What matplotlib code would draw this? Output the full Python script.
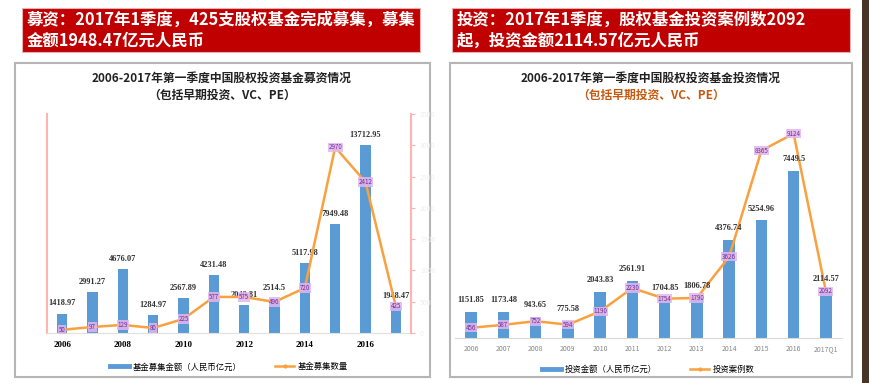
import matplotlib
matplotlib.use("Agg")
import matplotlib.pyplot as plt
from matplotlib.patches import Rectangle
from matplotlib.lines import Line2D

plt.rcParams['font.family'] = ['Noto Sans CJK SC', 'DejaVu Sans']

# data - fundraising (left chart)
years = ['2006', '2007', '2008', '2009', '2010', '2011', '2012', '2013', '2014', '2015', '2016', '2017']
raise_amount = [1418.97, 2991.27, 4676.07, 1284.97, 2567.89, 4231.48, 2049.81, 2514.5, 5117.98, 7949.48, 13712.95, 1948.47]
raise_count = [50, 97, 129, 80, 225, 577, 575, 496, 720, 2970, 2412, 425]
raise_ticks = ['2006', '', '2008', '', '2010', '', '2012', '', '2014', '', '2016', '']

# data - investment (right chart)
inv_years = ['2006', '2007', '2008', '2009', '2010', '2011', '2012', '2013', '2014', '2015', '2016', '2017Q1']
inv_amount = [1151.85, 1173.48, 943.65, 775.58, 2043.83, 2561.91, 1704.85, 1806.78, 4376.74, 5254.96, 7449.5, 2114.57]
inv_count = [456, 587, 752, 594, 1190, 2230, 1754, 1790, 3626, 8365, 9124, 2092]

W, H = 870, 383
BLUE = '#5B9BD5'
ORANGE = '#F9A03F'
RED = '#C00000'
PURPLE = '#7030A0'

fig = plt.figure(figsize=(W / 100, H / 100), dpi=100)
fig.patch.set_facecolor('white')


def rect(x0, y0, x1, y1, **kw):
    fig.patches.append(Rectangle((x0 / W, 1 - y1 / H), (x1 - x0) / W, (y1 - y0) / H,
                                 transform=fig.transFigure, zorder=-5, **kw))


def ftext(x, y, s, **kw):
    fig.text(x / W, 1 - y / H, s, **kw)


def axes_px(x0, y0, x1, y1):
    a = fig.add_axes([x0 / W, 1 - y1 / H, (x1 - x0) / W, (y1 - y0) / H])
    a.patch.set_alpha(0)
    return a


def fmt(v):
    return f'{v:.2f}'.rstrip('0').rstrip('.')


# right edge strip
rect(862, 0, 870, 383, facecolor='#4a3327', edgecolor='none')

# banners
rect(22, 8, 420, 52, facecolor=RED, edgecolor='#e8b0b0', linewidth=0.8)
rect(452, 8, 850, 52, facecolor=RED, edgecolor='#e8b0b0', linewidth=0.8)
ftext(27, 20, '募资：2017年1季度，425支股权基金完成募集，募集', color='white',
      fontsize=11.8, fontweight='bold', va='center')
ftext(27, 41, '金额1948.47亿元人民币', color='white', fontsize=11.8, fontweight='bold', va='center')
ftext(457, 20, '投资：2017年1季度，股权基金投资案例数2092', color='white',
      fontsize=11.8, fontweight='bold', va='center')
ftext(457, 41, '起，投资金额2114.57亿元人民币', color='white', fontsize=11.8, fontweight='bold', va='center')

# panels
rect(15, 63, 430, 377, facecolor='white', edgecolor='#b5b5b5', linewidth=1.5)
rect(450, 63, 852, 377, facecolor='white', edgecolor='#b5b5b5', linewidth=1.5)

# titles
ftext(222, 78, '2006-2017年第一季度中国股权投资基金募资情况', ha='center', va='center',
      fontsize=8.5, fontweight='bold', color='#222222')
ftext(222, 95, '（包括早期投资、VC、PE）', ha='center', va='center',
      fontsize=8.5, fontweight='bold', color='#222222')
ftext(651, 78, '2006-2017年第一季度中国股权投资基金投资情况', ha='center', va='center',
      fontsize=8.5, fontweight='bold', color='#222222')
ftext(651, 95, '（包括早期投资、VC、PE）', ha='center', va='center',
      fontsize=8.5, fontweight='bold', color='#C55A11')

label_box = dict(boxstyle='square,pad=0.1', facecolor='#E2B6EE', edgecolor='none', alpha=0.85)

# ---- left chart ----
ax1 = axes_px(47, 114, 411, 333)
x = list(range(len(years)))
ax1.bar(x, raise_amount, width=0.33, color=BLUE, zorder=2)
ax1.set_xlim(-0.5, len(years) - 0.5)
ax1.set_ylim(0, 16000)
ax1.set_yticks([])
ax1.set_xticks(x)
ax1.set_xticklabels(raise_ticks, fontsize=6.5, fontweight='bold', family='Liberation Serif')
ax1.tick_params(axis='x', length=0, pad=6)
for s in ['top', 'right']:
    ax1.spines[s].set_visible(False)
ax1.spines['left'].set_color('#FFB3B3')
ax1.spines['left'].set_linewidth(1.5)
ax1.spines['bottom'].set_color('#e0e0e0')
for i, v in enumerate(raise_amount):
    ax1.annotate(fmt(v), (i, v), xytext=(0, 6), textcoords='offset points', ha='center',
                 fontsize=6, family='Liberation Serif', fontweight='bold', color='#333333')

ax1b = ax1.twinx()
ax1b.patch.set_alpha(0)
ax1b.plot(x, raise_count, color=ORANGE, linewidth=1.8, zorder=3)
ax1b.set_ylim(0, 3500)
ax1b.set_yticks(range(0, 3501, 500))
ax1b.tick_params(axis='y', colors='#FFB3B3', labelcolor='#eeeeee', labelsize=5, length=3)
for s in ['top', 'left', 'bottom']:
    ax1b.spines[s].set_visible(False)
ax1b.spines['right'].set_color('#FFB3B3')
ax1b.spines['right'].set_linewidth(1.5)
for i, v in enumerate(raise_count):
    ax1b.text(i, v, str(v), ha='center', va='center', fontsize=4.5, color=PURPLE, bbox=label_box, zorder=4)

h1 = [Line2D([], [], color=BLUE, linewidth=3.5), Line2D([], [], color=ORANGE, linewidth=1.8, marker='o', markersize=2)]
ax1.legend(h1, ['基金募集金额（人民币亿元）', '基金募集数量'], loc='upper center',
           bbox_to_anchor=(0.5, -0.1), ncol=2, frameon=False, fontsize=6,
           handlelength=2.3, columnspacing=4, handletextpad=0.4)

# ---- right chart ----
ax2 = axes_px(455, 114, 842, 338)
x2 = list(range(len(inv_years)))
ax2.bar(x2, inv_amount, width=0.35, color=BLUE, zorder=2)
ax2.plot(x2, inv_count, color=ORANGE, linewidth=1.8, zorder=3)
ax2.set_xlim(-0.5, len(inv_years) - 0.5)
ax2.set_ylim(0, 10000)
ax2.set_yticks([])
ax2.set_xticks(x2)
ax2.set_xticklabels(inv_years, fontsize=5, color='#888888')
ax2.tick_params(axis='x', length=0, pad=5)
for s in ['top', 'right', 'left']:
    ax2.spines[s].set_visible(False)
ax2.spines['bottom'].set_color('#d9d9d9')
for i, v in enumerate(inv_amount):
    ax2.annotate(fmt(v), (i, v), xytext=(0, 7), textcoords='offset points', ha='center',
                 fontsize=6, family='Liberation Serif', fontweight='bold', color='#333333')
for i, v in enumerate(inv_count):
    ax2.text(i, v, str(v), ha='center', va='center', fontsize=4.5, color=PURPLE, bbox=label_box, zorder=4)

h2 = [Line2D([], [], color=BLUE, linewidth=3.5), Line2D([], [], color=ORANGE, linewidth=1.8, marker='o', markersize=2)]
ax2.legend(h2, ['投资金额（人民币亿元）', '投资案例数'], loc='upper center',
           bbox_to_anchor=(0.5, -0.085), ncol=2, frameon=False, fontsize=6,
           handlelength=2.3, columnspacing=4, handletextpad=0.4)

fig.savefig('out.png', dpi=100)
